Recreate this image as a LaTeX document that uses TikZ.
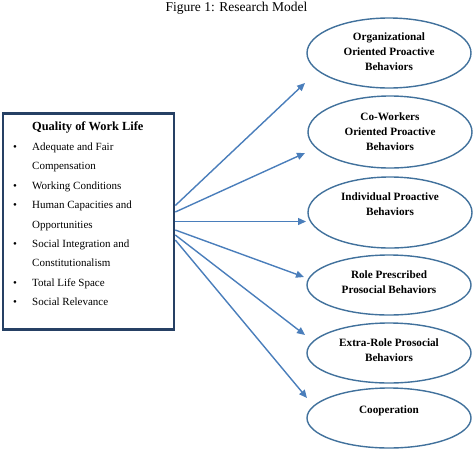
\documentclass[tikz,border=0pt]{standalone}
\usepackage{fontspec}
\setmainfont{Liberation Serif}
\usetikzlibrary{arrows.meta,shapes.geometric}
\definecolor{ellline}{RGB}{65,113,156}
\definecolor{arrline}{RGB}{74,126,187}
\definecolor{boxline}{RGB}{38,64,100}
\tikzset{
  oval/.style={draw=ellline, line width=1.4pt, ellipse, minimum width=164pt, inner sep=0pt},
  ovaltext/.style={font=\fontsize{11.2}{15}\selectfont\bfseries, align=center, inner sep=0pt},
  item/.style={anchor=west, font=\fontsize{11}{13}\selectfont, inner sep=0pt, text height=7.5pt, text depth=2.5pt},
  bul/.style={font=\fontsize{11}{13}\selectfont, inner sep=0pt},
  link/.style={draw=arrline, line width=1.4pt, -{Triangle[length=8pt,width=7pt]}},
  qbox/.style={draw=boxline, line width=2.6pt, minimum width=171pt, minimum height=216pt, inner sep=0pt}
}
\begin{document}
\begin{tikzpicture}[x=1pt,y=-1pt]
\useasboundingbox (0,0) rectangle (474,448);
% title
\node[anchor=base, font=\fontsize{13.5}{16}\selectfont, inner sep=0pt] (title) at (236.5,11) {Figure 1: Research Model};
% box
\node[qbox] (qwl) at (88.5,221.5) {};
\node[anchor=west, font=\fontsize{12.4}{15}\selectfont\bfseries, inner sep=0pt, text height=8.5pt, text depth=2.5pt] (head) at (32,127) {Quality of Work Life};
\node[item] (l1) at (32,148) {Adequate and Fair};
\node[item] (l2) at (32,167.4) {Compensation};
\node[item] (l3) at (32,186.8) {Working Conditions};
\node[item] (l4) at (32,206.2) {Human Capacities and};
\node[item] (l5) at (32,225.6) {Opportunities};
\node[item] (l6) at (32,245) {Social Integration and};
\node[item] (l7) at (32,264.4) {Constitutionalism};
\node[item] (l8) at (32,283.8) {Total Life Space};
\node[item] (l9) at (32,303.2) {Social Relevance};
\node[bul] (b1) at (15,148) {\textbullet};
\node[bul] (b3) at (15,186.8) {\textbullet};
\node[bul] (b4) at (15,206.2) {\textbullet};
\node[bul] (b6) at (15,245) {\textbullet};
\node[bul] (b8) at (15,283.8) {\textbullet};
\node[bul] (b9) at (15,303.2) {\textbullet};
% ellipses
\node[oval, minimum height=70pt] (e1) at (389,53) {};
\node[oval, minimum height=72pt] (e2) at (390,132) {};
\node[oval, minimum height=71pt] (e3) at (390,212.5) {};
\node[oval, minimum height=60pt] (e4) at (389,285) {};
\node[oval, minimum height=60pt] (e5) at (389,353) {};
\node[oval, minimum height=60pt] (e6) at (389,418) {};
\node[ovaltext] (t1) at (389,52) {Organizational\\Oriented Proactive\\Behaviors};
\node[ovaltext] (t2) at (390,132) {Co-Workers\\Oriented Proactive\\Behaviors};
\node[ovaltext] (t3) at (390,204.5) {Individual Proactive\\Behaviors};
\node[ovaltext] (t4) at (389,282) {Role Prescribed\\Prosocial Behaviors};
\node[ovaltext] (t5) at (389,350) {Extra-Role Prosocial\\Behaviors};
\node[ovaltext] (t6) at (389,411) {Cooperation};
% arrow ends
\coordinate (a1) at (305,83);
\coordinate (a2) at (305,153);
\coordinate (a3) at (306,221.5);
\coordinate (a4) at (304,277);
\coordinate (a5) at (305,335);
\coordinate (a6) at (307,398);
\draw[link] ([yshift=16pt]qwl.east) -- (a1);
\draw[link] ([yshift=9.5pt]qwl.east) -- (a2);
\draw[link] (qwl.east) -- (a3);
\draw[link] ([yshift=-8.5pt]qwl.east) -- (a4);
\draw[link] ([yshift=-13.5pt]qwl.east) -- (a5);
\draw[link] ([yshift=-18.5pt]qwl.east) -- (a6);
\end{tikzpicture}
\end{document}
